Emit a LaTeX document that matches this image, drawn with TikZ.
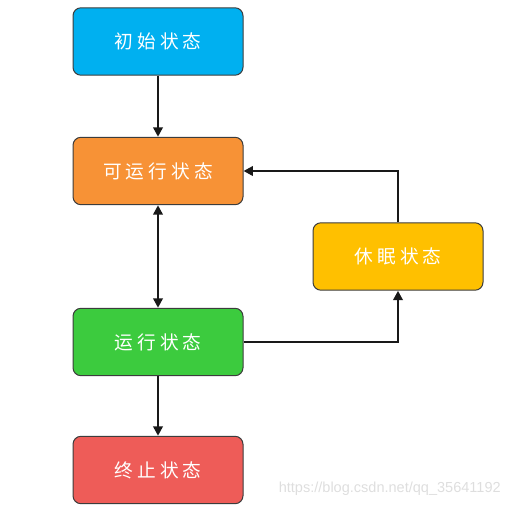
\documentclass[tikz,border=0pt]{standalone}
\usepackage{fontspec}
\newfontfamily\cjk{Noto Sans CJK SC}[LetterSpace=22]
\newfontfamily\wm{Liberation Sans}
\usetikzlibrary{arrows.meta}
\definecolor{cblue}{RGB}{0,176,240}
\definecolor{corange}{RGB}{247,146,54}
\definecolor{cgreen}{RGB}{60,203,62}
\definecolor{cyellow}{RGB}{255,192,0}
\definecolor{cred}{RGB}{238,92,88}
\definecolor{cborder}{RGB}{60,60,60}
\definecolor{cwm}{RGB}{222,222,222}
\tikzset{
  statebox/.style={draw=cborder, line width=0.75pt, rounded corners=6pt,
    minimum width=127.5pt, minimum height=50.6pt, inner sep=0pt,
    text=white, font=\cjk\fontsize{14pt}{16pt}\selectfont},
  conn/.style={line width=1.8pt, draw=black!90, -{Triangle[length=7pt,width=7pt]}},
  dconn/.style={line width=1.8pt, draw=black!90, {Triangle[length=7pt,width=7pt]}-{Triangle[length=7pt,width=7pt]}}
}
\begin{document}
\begin{tikzpicture}[x=0.75pt,y=-0.75pt]
\useasboundingbox (0,0) rectangle (510,507);
\node[statebox, fill=cblue] (init) at (158,41.5) {初始状态};
\node[statebox, fill=corange] (ready) at (158,171) {可运行状态};
\node[statebox, fill=cgreen] (run) at (158,342) {运行状态};
\node[statebox, fill=cred] (term) at (158,470) {终止状态};
\node[statebox, fill=cyellow] (sleep) at (398,256.5) {休眠状态};
\draw[conn] (init) -- (ready);
\draw[dconn] (ready) -- (run);
\draw[conn] (run) -- (term);
\draw[conn] (run.east) -| (sleep.south);
\draw[conn] (sleep.north) |- (ready.east);
\node[font=\wm\fontsize{10.9pt}{12pt}\selectfont, text=cwm, anchor=east, inner sep=0pt] (wmark) at (501,489) {https://blog.csdn.net/qq\_35641192};
\end{tikzpicture}
\end{document}
